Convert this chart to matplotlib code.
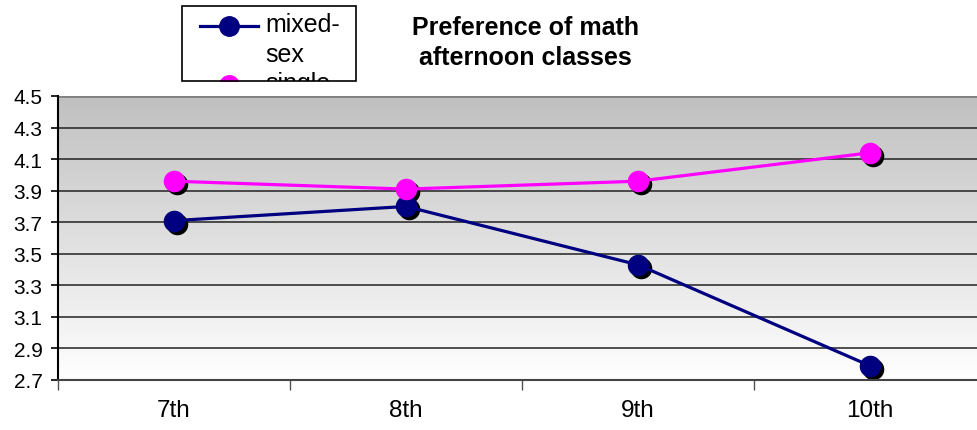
import numpy as np
import matplotlib.pyplot as plt
import matplotlib.transforms as mtransforms
from matplotlib.patches import Rectangle

plt.rcParams['font.family'] = ['Liberation Sans', 'DejaVu Sans']

grades = ['7th', '8th', '9th', '10th']
mixed_sex = [3.71, 3.80, 3.43, 2.79]
single_sex = [3.96, 3.91, 3.96, 4.14]
y_ticks = [2.7, 2.9, 3.1, 3.3, 3.5, 3.7, 3.9, 4.1, 4.3, 4.5]

W, H = 977, 431
fig = plt.figure(figsize=(W / 100, H / 100), dpi=100)
ax = fig.add_axes([58 / W, (H - 381) / H, (986 - 58) / W, (381 - 97) / H])

x = np.arange(len(grades))
ax.set_xlim(-0.5, 3.5)
ax.set_ylim(2.7, 4.5)

# grey-to-white background gradient
grad = np.linspace(0.753, 1.0, 256).reshape(-1, 1)
ax.imshow(np.dstack([grad, grad, grad]), extent=(-0.5, 3.5, 2.7, 4.5),
          aspect='auto', origin='upper', zorder=0)

for yv in y_ticks[1:-1]:
    ax.axhline(yv, color='#222222', lw=1.1, zorder=1)
ax.axhline(4.5, color='#808080', lw=2.0, zorder=1)

# marker shadows
shadow = mtransforms.offset_copy(ax.transData, fig=fig, x=3, y=-3, units='dots')
for vals in (mixed_sex, single_sex):
    ax.plot(x, vals, linestyle='none', marker='o', ms=14.5, color='black',
            transform=shadow, zorder=2)

ax.plot(x, mixed_sex, color='#000080', lw=2.3, marker='o', ms=14.5, zorder=3)
ax.plot(x, single_sex, color='#ff00ff', lw=2.3, marker='o', ms=14.5, zorder=4)

ax.set_yticks(y_ticks)
ax.set_yticklabels([f'{v:.1f}' for v in y_ticks], fontsize=15)
ax.set_xticks([-0.5, 0.5, 1.5, 2.5])
ax.set_xticklabels([])
ax.set_xticks(x, minor=True)
ax.set_xticklabels(grades, minor=True, fontsize=17.5)
ax.tick_params(axis='x', which='major', direction='out', length=7, width=1, color='#555555')
ax.tick_params(axis='x', which='minor', length=0, pad=14)
ax.tick_params(axis='y', direction='out', length=5, width=1.2, pad=6)
for s in ('top', 'right'):
    ax.spines[s].set_visible(False)
ax.spines['left'].set_linewidth(1.5)
ax.spines['bottom'].set_color('#444444')
ax.spines['bottom'].set_linewidth(1.5)

# title
fig.text(525 / W, 1 - 43 / H, 'Preference of math\nafternoon classes', ha='center',
         va='center', fontsize=18, fontweight='bold', linespacing=1.3)

# clipped legend box
bx0, by0, bx1, by1 = 182, 7, 356, 82
clip = Rectangle((bx0 / W, 1 - by1 / H), (bx1 - bx0) / W, (by1 - by0) / H,
                 transform=fig.transFigure, facecolor='white', edgecolor='none')
fig.patches.append(clip)
frame = Rectangle((bx0 / W, 1 - by1 / H), (bx1 - bx0) / W, (by1 - by0) / H,
                  transform=fig.transFigure, facecolor='none', edgecolor='black',
                  lw=1.2, zorder=10)
fig.patches.append(frame)
for label, color, yy in (('mixed-\nsex', '#000080', 27), ('single-\nsex', '#ff00ff', 86)):
    ln = fig.add_artist(plt.Line2D([200 / W, 229 / W, 258 / W], [1 - yy / H] * 3,
                                   color=color, lw=2.3, marker='o', markevery=[1],
                                   ms=14, transform=fig.transFigure))
    ln.set_clip_path(clip)
    t = fig.text(265 / W, 1 - (yy - 14) / H, label, ha='left', va='top', fontsize=18,
                 linespacing=1.3)
    t.set_clip_path(clip)

fig.savefig('out.png', dpi=100)
